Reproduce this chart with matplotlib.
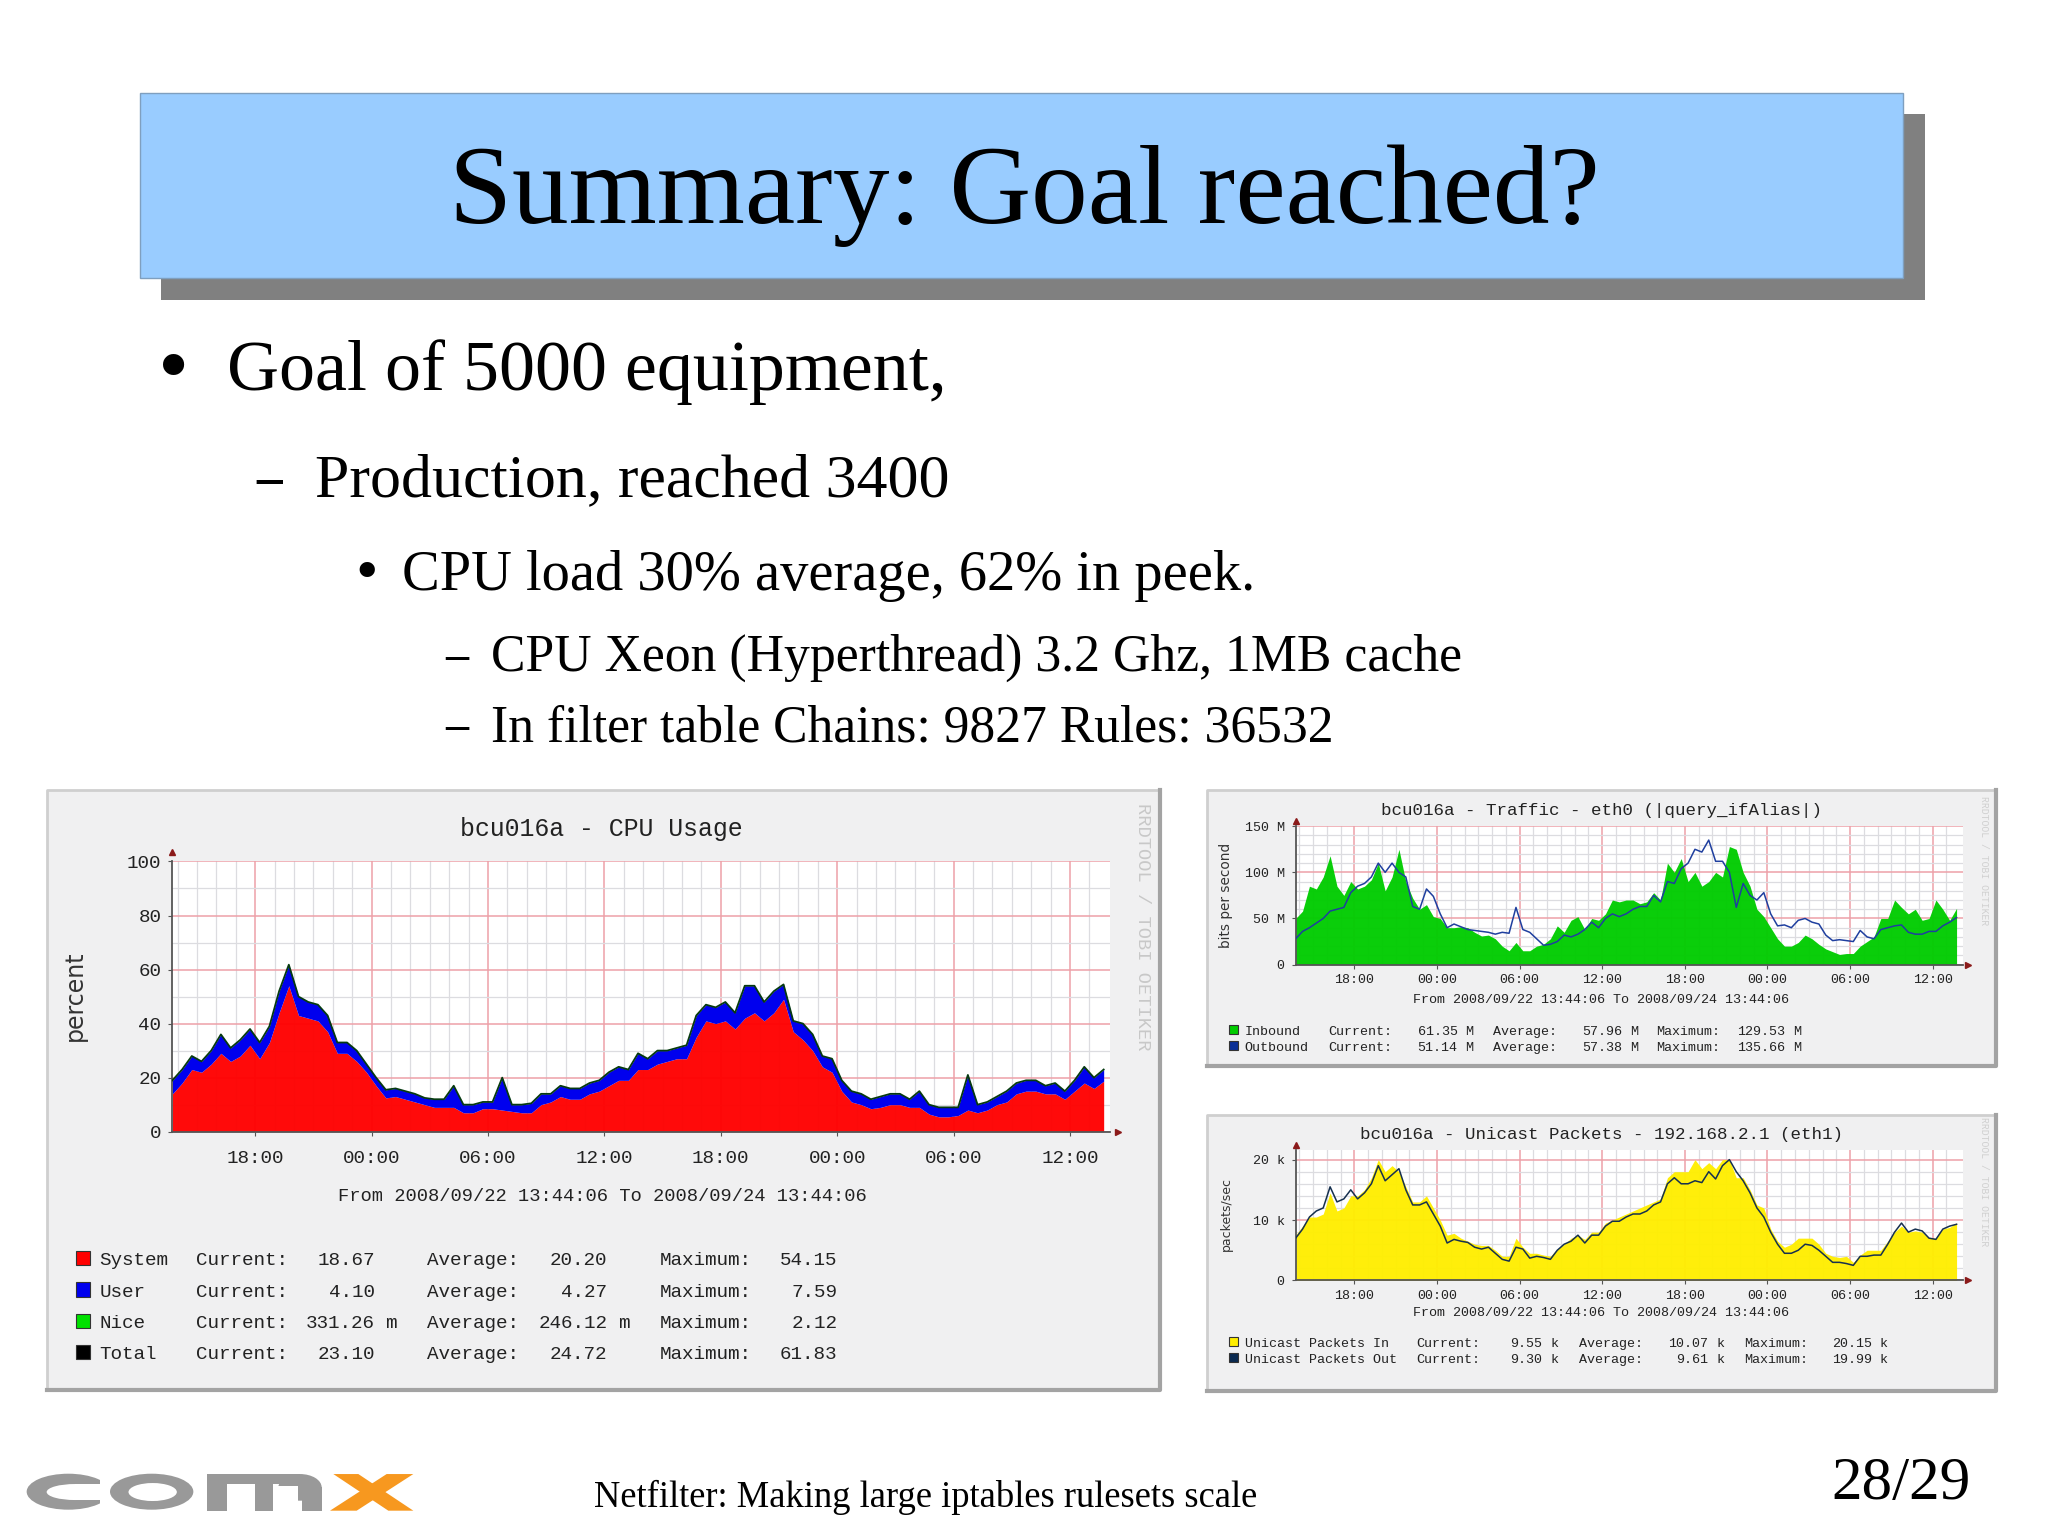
import numpy as np
import matplotlib
matplotlib.use('Agg')
import matplotlib.pyplot as plt
from matplotlib.patches import Rectangle, Ellipse, Polygon

# half hour samples, 2008/09/22 13:44 to 2008/09/24 13:44
cpu_total = [19, 23, 28, 26, 30, 36, 31, 34, 38, 33, 39, 52, 61.8, 50, 48, 47, 43, 33, 33, 30,
             25, 20, 15.5, 16, 15, 14, 12.5, 12, 12, 17, 10, 10, 11, 11, 20, 10, 10, 10.5, 14, 14,
             17, 16, 16, 18, 19, 22, 24, 23, 29, 27, 30, 30, 31, 32, 43, 47, 46, 48, 44, 54,
             54, 48, 52, 54.5, 41, 40, 36, 28, 27, 19, 15, 14, 12, 13, 14, 14, 12, 15, 10, 9,
             9, 9, 21, 10, 11, 13, 15, 18, 19, 19, 17, 18, 15, 19, 24, 20, 23]
cpu_system = [14, 18, 23, 22, 25, 29, 26, 28, 32, 27, 33, 44, 54, 43, 42, 41, 37, 29, 29, 26,
              22, 17, 12.5, 13, 12, 11, 10, 9, 9, 9, 7, 7, 8.5, 8.5, 8, 7.5, 7, 7, 10, 11,
              13, 12, 12, 14, 15, 17, 19, 19, 23, 23, 25, 26, 27, 27, 35, 41, 40, 41, 38, 42,
              44, 41, 44, 49, 37, 34, 30, 24, 22, 15, 11, 10, 8.5, 9, 10, 10, 9, 9, 6.5, 5.5,
              5.5, 6, 8, 7, 8, 10, 11, 14, 15, 15, 14, 14, 12, 15, 18, 16, 18.7]
traffic_in = [50, 58, 85, 82, 95, 118, 85, 75, 90, 82, 85, 92, 110, 80, 95, 125, 90, 72, 60, 65,
              52, 50, 40, 40, 41, 40, 35, 31, 32, 28, 20, 15, 24, 15, 15, 20, 22, 28, 42, 35,
              48, 52, 38, 50, 48, 55, 70, 68, 70, 70, 66, 68, 78, 70, 110, 100, 115, 90, 100, 85,
              90, 100, 95, 128, 125, 100, 85, 60, 52, 40, 28, 20, 20, 24, 32, 28, 22, 17, 14, 11,
              12, 12, 20, 25, 30, 50, 50, 70, 62, 55, 60, 48, 50, 70, 60, 48, 61]
traffic_out = [28, 36, 40, 45, 50, 58, 60, 62, 78, 85, 88, 95, 110, 100, 110, 100, 95, 63, 60, 82,
               74, 55, 40, 44, 41, 38, 37, 36, 35, 33, 35, 34, 62, 38, 35, 28, 21, 22, 25, 32,
               30, 33, 38, 46, 40, 50, 55, 52, 55, 60, 63, 63, 75, 68, 90, 88, 104, 110, 125, 122,
               135, 112, 112, 100, 62, 88, 75, 70, 78, 55, 42, 43, 40, 48, 50, 46, 44, 32, 26, 27,
               26, 25, 37, 30, 28, 38, 40, 42, 43, 35, 33, 33, 36, 36, 42, 46, 51]
packets_in = [7.5, 9, 10.5, 10.5, 11, 14.5, 11.5, 12, 14, 14, 15, 17, 20, 18, 19, 18, 15.5, 13, 13, 14,
              12, 10, 7.5, 7.8, 7, 6.5, 6, 5.8, 5.8, 5, 4, 4, 7, 5.5, 4.5, 4.5, 4.2, 4, 5.2, 6,
              7, 7.5, 6.8, 8, 8, 9.5, 10, 10.5, 11, 11.5, 12, 12.5, 13, 13.5, 17, 18, 18, 18, 20, 18.5,
              19.5, 18.5, 20, 20, 17, 17, 15, 12.5, 12, 8.5, 6.5, 5.5, 6, 7, 7, 7, 6, 4.5, 4, 3.8,
              4, 3, 4.2, 5, 5, 5, 6.5, 8, 9, 8, 8.2, 8, 7, 7, 8.5, 8.8, 9.55]
packets_out = [7, 8.5, 10.5, 11.5, 12, 15.5, 13, 13.5, 15, 13.5, 14.5, 16, 19, 16.5, 17.5, 18.5, 15, 12.5, 12.5, 13,
               11, 9, 6.2, 6.8, 6.5, 6.3, 5.5, 5.2, 5.5, 4.5, 3.5, 3.2, 5.5, 5.2, 3.7, 4, 3.8, 3.5, 5, 6,
               6.5, 7.5, 6.2, 7.5, 7.5, 9, 9.8, 9.8, 10.5, 11, 11, 11.5, 12.5, 13, 16, 17, 16, 16, 16.5, 16.2,
               18, 16.8, 19, 20, 18, 16.5, 14.5, 12, 10.5, 8, 6, 4.5, 4.5, 5, 6, 5.8, 5, 4, 3, 3,
               2.8, 2.5, 4, 4, 4.2, 4.2, 6, 8, 9.5, 8, 8.5, 8.2, 7, 6.8, 8.5, 9, 9.3]

hour_ticks = [4.265, 10.265, 16.265, 22.265, 28.265, 34.265, 40.265, 46.265]
hour_labels = ['18:00', '00:00', '06:00', '12:00', '18:00', '00:00', '06:00', '12:00']
period = 'From 2008/09/22 13:44:06 To 2008/09/24 13:44:06'

cpu_legend = [('System', '18.67', '20.20', '54.15'), ('User', '4.10', '4.27', '7.59'),
              ('Nice', '331.26 m', '246.12 m', '2.12'), ('Total', '23.10', '24.72', '61.83')]
traffic_legend = [('Inbound', '61.35 M', '57.96 M', '129.53 M'), ('Outbound', '51.14 M', '57.38 M', '135.66 M')]
packets_legend = [('Unicast Packets In', '9.55 k', '10.07 k', '20.15 k'), ('Unicast Packets Out', '9.30 k', '9.61 k', '19.99 k')]

SERIF = 'Liberation Serif'
MONO = 'Liberation Mono'
W, H = 1568, 1176  # layout numbers are read at this size
S = 2048 / W

fig = plt.figure(figsize=(20.48, 15.35), dpi=100, facecolor='white')
bg = fig.add_axes([0, 0, 1, 1])
bg.set_xlim(0, W)
bg.set_ylim(H, 0)
bg.axis('off')


def slide_text(x, y, s, size, **kw):
    bg.text(x, y, s, fontsize=size, family=SERIF, color='black', va='center', **kw)


# title box
bg.add_patch(Rectangle((123, 87), 1351, 143, fc='#808080', ec='none'))
bg.add_patch(Rectangle((107, 71), 1350, 142, fc='#99ccff', ec='#7f9fbf', lw=1))
slide_text(784, 150, 'Summary: Goal reached?', 81.5, ha='center')

# bullets
slide_text(121, 285, '•', 64)
slide_text(174, 285, 'Goal of 5000 equipment,', 51.8)
slide_text(196, 369, '–', 37, fontweight='bold')
slide_text(241, 369, 'Production, reached 3400', 44.6)
slide_text(272, 441, '•', 46)
slide_text(308, 441, 'CPU load 30% average, 62% in peek.', 40.7)
slide_text(341, 504, '–', 33, fontweight='bold')
slide_text(376, 504, 'CPU Xeon (Hyperthread) 3.2 Ghz, 1MB cache', 37.3)
slide_text(341, 558, '–', 33, fontweight='bold')
slide_text(376, 558, 'In filter table Chains: 9827 Rules: 36532', 37.2)

# footer
slide_text(455, 1147, 'Netfilter: Making large iptables rulesets scale', 26.3)
slide_text(1402, 1137, '28/29', 44)


def logo_xy(x, y):
    return x / 3 / S, (1420 + y / 3) / S


def logo_ellipse(cx, cy, w, h, color):
    bg.add_patch(Ellipse(logo_xy(cx, cy), w / 3 / S, h / 3 / S, fc=color, ec='none'))


def logo_rect(x0, y0, x1, y1, color):
    px, py = logo_xy(x0, y0)
    bg.add_patch(Rectangle((px, py), (x1 - x0) / 3 / S, (y1 - y0) / 3 / S, fc=color, ec='none'))


# comx logo
grey = '#999999'
orange = '#f7981f'
logo_ellipse(205, 218, 250, 108, grey)
logo_ellipse(225, 219, 170, 48, 'white')
logo_rect(225, 195, 330, 243, 'white')
logo_rect(300, 160, 330, 280, 'white')
logo_ellipse(455, 218, 250, 108, grey)
logo_ellipse(458, 219, 145, 54, 'white')
logo_rect(620, 165, 680, 275, grey)
logo_rect(765, 190, 820, 275, grey)
logo_rect(905, 205, 965, 275, grey)
logo_rect(620, 165, 900, 195, grey)
logo_ellipse(900, 205, 130, 80, grey)
logo_rect(820, 200, 895, 275, 'white')
bg.add_patch(Polygon([logo_xy(*p) for p in [(1000, 165), (1075, 165), (1240, 275), (1165, 275)]], fc=orange, ec='none'))
bg.add_patch(Polygon([logo_xy(*p) for p in [(1160, 165), (1240, 165), (1070, 275), (990, 275)]], fc=orange, ec='none'))


def panel(x0, y0, x1, y1):
    bg.add_patch(Rectangle((x0, y0), x1 - x0, y1 - y0, fc='#f0f0f1', ec='none'))
    bg.plot([x0, x0, x1], [y1, y0, y0], color='#cfcfcf', lw=2)
    bg.plot([x0, x1, x1], [y1, y1, y0], color='#a3a3a3', lw=3)


def rrd_axes(x0, x1, y0, ytop, ymax, ymajor, yminor, ylabels, tick_size, xpad):
    # x0,x1 cover the 48 hours, y0 is value 0, ytop is value ymax
    hour = (x1 - x0) / 48
    right = x1 + 5
    ax = fig.add_axes([x0 / W, 1 - y0 / H, (right - x0) / W, (y0 - ytop) / H])
    ax.set_xlim(0, 48 + 5 / hour)
    ax.set_ylim(0, ymax)
    ax.set_facecolor('white')
    ax.set_xticks(hour_ticks, hour_labels)
    ax.set_xticks(np.arange(0.265, 48, 1), minor=True)
    ax.set_yticks(ymajor, ylabels)
    ax.set_yticks(yminor, minor=True)
    ax.grid(which='minor', color='#dcdce0', lw=0.9)
    ax.grid(which='major', color='#eda0a8', lw=1.1)
    ax.set_axisbelow(True)
    ax.tick_params(which='minor', length=0)
    ax.tick_params(which='major', length=3, color='#555555', labelsize=tick_size, pad=5, labelfontfamily=MONO, labelcolor='#222222')
    ax.tick_params(axis='x', which='major', pad=xpad)
    for side in ['top', 'right']:
        ax.spines[side].set_visible(False)
    for side in ['left', 'bottom']:
        ax.spines[side].set_color('#555555')
        ax.spines[side].set_linewidth(1.3)
    ax.plot(0, 1.035, '^', color='#8b1a1a', ms=4.5, transform=ax.transAxes, clip_on=False)
    ax.plot(1.008, 0, '>', color='#8b1a1a', ms=4.5, transform=ax.transAxes, clip_on=False)
    return ax


def chart_text(x, y, s, size, **kw):
    kw.setdefault('color', '#222222')
    kw.setdefault('va', 'center')
    bg.text(x, y + 2, s, fontsize=size, family=MONO, **kw)


def chart_legend(rows, colors, ys, swatch_x, swatch_w, label_x, cols, unit_gap, size):
    for row, color, y in zip(rows, colors, ys):
        bg.add_patch(Rectangle((swatch_x, y - swatch_w / 2), swatch_w, swatch_w, fc=color, ec='#333333', lw=0.8))
        chart_text(label_x, y, row[0], size)
        for name, (name_x, num_x), val in zip(['Current:', 'Average:', 'Maximum:'], cols, row[1:]):
            chart_text(name_x, y, name, size)
            parts = val.split()
            chart_text(num_x, y, parts[0], size, ha='right')
            if len(parts) > 1:
                chart_text(num_x + unit_gap, y, parts[1], size)


hours = np.arange(97) * 0.5

# CPU chart
panel(36, 605, 888, 1065)
ax = rrd_axes(132, 845, 867, 660, 100, [0, 20, 40, 60, 80, 100], [10, 30, 50, 70, 90], ['0', '20', '40', '60', '80', '100'], 13.9, 10.5)
ax.fill_between(hours, 0, cpu_system, color='#ff0000', lw=0, alpha=0.96, zorder=2)
ax.fill_between(hours, cpu_system, cpu_total, color='#0000ee', lw=0, zorder=2)
ax.plot(hours, cpu_total, color='#063a10', lw=1.3, zorder=3)
chart_text(460, 633, 'bcu016a - CPU Usage', 17.9, ha='center')
chart_text(461, 915, period, 13.5, ha='center')
bg.text(57, 763, 'percent', fontsize=17, family='DejaVu Sans', rotation=90, color='#333333', ha='center', va='center')
chart_text(875, 708, 'RRDTOOL / TOBI OETIKER', 13.5, rotation=270, ha='center', color='#c8c8c8')
chart_legend(cpu_legend, ['#ff0000', '#0000ee', '#00e000', '#000000'], [964, 988, 1012, 1036], 58, 11, 76,
             [(150, 287), (327, 465), (505, 641)], 8, 13.9)

# traffic chart
panel(924, 605, 1528, 817)
ax = rrd_axes(992, 1498, 739, 633, 150, [0, 50, 100, 150], list(range(10, 150, 10)), ['0', '50 M', '100 M', '150 M'], 9.6, 4)
ax.fill_between(hours, 0, traffic_in, color='#00cc00', lw=0, alpha=0.96, zorder=2)
ax.plot(hours, traffic_out, color='#1f3f9f', lw=1.1, zorder=3)
chart_text(1226, 619, 'bcu016a - Traffic - eth0 (|query_ifAlias|)', 12.6, ha='center')
chart_text(1226, 764, period, 9.6, ha='center')
bg.text(939, 686, 'bits per second', fontsize=9.8, family='DejaVu Sans', rotation=90, color='#333333', ha='center', va='center')
chart_text(1519, 657, 'RRDTOOL / TOBI OETIKER', 7, rotation=270, ha='center', color='#d0d0d0')
chart_legend(traffic_legend, ['#00cc00', '#0a2f96'], [789, 801], 941, 7, 953,
             [(1017, 1116), (1143, 1242), (1268, 1367)], 6.1, 9.6)

# unicast packets chart
panel(924, 854, 1528, 1066)
ax = rrd_axes(992, 1498, 981, 881, 21.6, [0, 10, 20], list(range(2, 22, 2)), ['0', '10 k', '20 k'], 9.6, 4)
ax.fill_between(hours, 0, packets_in, color='#ffee00', lw=0, alpha=0.96, zorder=2)
ax.plot(hours, packets_out, color='#16304f', lw=1.1, zorder=3)
chart_text(1226, 867, 'bcu016a - Unicast Packets - 192.168.2.1 (eth1)', 12.6, ha='center')
chart_text(1226, 1004, period, 9.6, ha='center')
bg.text(939, 930, 'packets/sec', fontsize=9, family='DejaVu Sans', rotation=90, color='#333333', ha='center', va='center')
chart_text(1519, 903, 'RRDTOOL / TOBI OETIKER', 7, rotation=270, ha='center', color='#d0d0d0')
chart_legend(packets_legend, ['#ffee00', '#0a2a50'], [1028, 1040], 941, 7, 953,
             [(1084, 1181), (1209, 1308), (1335, 1433)], 6.1, 9.6)

fig.savefig('out.png', dpi=100)
